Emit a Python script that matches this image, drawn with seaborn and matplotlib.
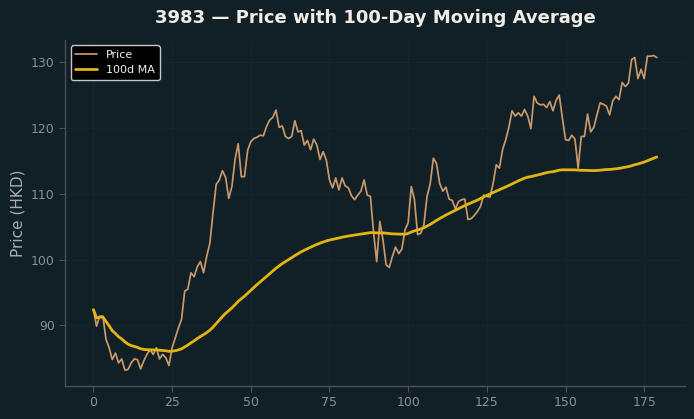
import numpy as np
import pandas as pd
import matplotlib
matplotlib.use('Agg')
import matplotlib.pyplot as plt
import seaborn as sns

# Daily closing prices (day index 0..179)
price = [
    92.4, 89.9, 91.4, 91.4, 87.9, 86.6, 84.8, 85.8, 84.3, 84.9,
    83.2, 83.3, 84.3, 84.9, 84.8, 83.4, 84.6, 85.6, 86.3, 85.6,
    86.6, 84.9, 85.6, 85.1, 83.9, 86.6, 88.1, 89.6, 90.9, 95.2,
    95.5, 98.0, 97.4, 98.9, 99.7, 98.0, 100.5, 102.5, 107.1, 111.4,
    112.1, 113.5, 112.5, 109.3, 111.1, 115.2, 117.6, 112.6, 112.6, 116.6,
    117.9, 118.4, 118.6, 118.9, 118.8, 120.2, 121.2, 121.6, 122.7, 120.1,
    120.3, 118.7, 118.4, 118.7, 121.1, 119.4, 119.6, 117.4, 118.1, 116.7,
    118.3, 117.4, 115.2, 116.4, 115.1, 112.1, 110.9, 112.4, 110.6, 112.4,
    111.2, 110.9, 109.7, 109.1, 109.8, 110.4, 112.1, 109.8, 109.6, 104.2,
    99.7, 105.8, 103.0, 99.2, 98.8, 100.5, 101.9, 100.9, 101.6, 104.5,
    105.6, 111.1, 109.1, 103.8, 104.0, 105.3, 109.6, 111.5, 115.4, 114.6,
    111.6, 110.4, 111.0, 109.2, 109.0, 107.7, 108.8, 109.1, 109.2, 106.1,
    106.2, 106.7, 107.3, 108.1, 109.8, 109.6, 109.5, 111.6, 114.4, 113.9,
    116.7, 118.2, 120.1, 122.6, 121.8, 122.3, 121.8, 122.8, 121.8, 119.9,
    124.8, 123.8, 123.5, 123.6, 123.1, 124.0, 122.6, 124.2, 125.0, 121.5,
    118.2, 118.1, 118.9, 118.3, 113.9, 118.7, 118.7, 122.1, 119.4, 120.1,
    122.0, 123.8, 123.6, 123.3, 122.0, 124.1, 124.8, 124.3, 126.9, 126.3,
    126.8, 130.4, 130.7, 127.5, 128.9, 127.5, 130.9, 130.9, 131.0, 130.7,
]
window = 100

bg = '#111f26'
price_color = '#c9996b'
ma_color = '#e3b512'

df = pd.DataFrame({'day': np.arange(len(price)), 'price': price})
df['ma'] = df['price'].rolling(window, min_periods=1).mean()

sns.set_theme(style='dark')
plt.rcParams['font.family'] = ['DejaVu Sans']

fig = plt.figure(figsize=(6.94, 4.19), dpi=100, facecolor=bg)
ax = fig.add_axes([0.094, 0.079, 0.893, 0.826])
ax.set_facecolor(bg)

sns.lineplot(data=df, x='day', y='price', ax=ax, color=price_color,
             linewidth=1.25, label='Price')
sns.lineplot(data=df, x='day', y='ma', ax=ax, color=ma_color,
             linewidth=2.0, label='100d MA')

# very faint grid, like the original
ax.grid(True, color='#16252c', linewidth=0.8)
ax.set_axisbelow(True)
for side in ['top', 'right']:
    ax.spines[side].set_visible(False)
for side in ['left', 'bottom']:
    ax.spines[side].set_color('#4a4f52')
    ax.spines[side].set_linewidth(1.0)

ax.tick_params(axis='both', colors='#4a4f52', labelcolor='#8a8f92',
               labelsize=9, length=4, width=0.8, bottom=True, left=True)
ax.set_xticks([0, 25, 50, 75, 100, 125, 150, 175])
ax.set_yticks([90, 100, 110, 120, 130])
ax.set_xlabel('')
ax.set_ylabel('Price (HKD)', color='#a9adb0', fontsize=11)
ax.set_title('3983 \u2014 Price with 100-Day Moving Average', color='#f0ede6',
             fontsize=13, fontweight='bold', pad=12)

leg = ax.legend(loc='upper left', facecolor='black', edgecolor='#c4c8cb',
                fontsize=8, framealpha=1.0)
for t in leg.get_texts():
    t.set_color('#f0f0f0')

fig.savefig('out.png', dpi=100, facecolor=bg)
